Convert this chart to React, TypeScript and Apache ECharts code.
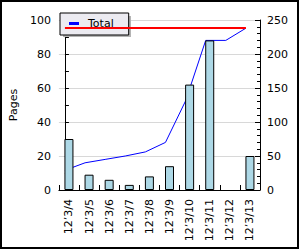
import React, { useEffect, useRef } from "react";
import * as echarts from "echarts";

const categories = ["12’3/4", "12’3/5", "12’3/6", "12’3/7", "12’3/8", "12’3/9", "12’3/10", "12’3/11", "12’3/12", "12’3/13"];
const pages = [30, 9, 6, 3, 8, 14, 62, 88, 0, 20];
const total = [29, 40, 45, 50, 56, 70, 131, 220, 220, 238];
const totalLimit = 238;
const leftAxis = { min: 0, max: 100, interval: 20 };
const rightAxis = { min: 0, max: 250, interval: 50 };

const FONT = "DejaVu Sans";

export default function App() {
  const ref = useRef<HTMLDivElement>(null);
  useEffect(() => {
    if (!ref.current) return;
    const chart = echarts.init(ref.current, null, { renderer: "svg" });
    chart.setOption({
      animation: false,
      backgroundColor: "#ffffff",
      textStyle: { fontFamily: FONT, color: "#000" },
      grid: { left: 41, right: 40, top: 20, bottom: 60 },
      legend: {
        data: ["Total"],
        left: 60,
        top: 13,
        orient: "horizontal",
        padding: [5, 15, 6, 9],
        itemWidth: 10,
        itemHeight: 3,
        icon: "rect",
        backgroundColor: "#ecebf1",
        borderColor: "#000",
        borderWidth: 1,
        borderRadius: 0,
        z: 5,
        textStyle: { fontFamily: FONT, fontSize: 11, color: "#000", padding: [0, 0, 0, 4] },
      },
      xAxis: [
        {
          type: "category",
          data: categories,
          boundaryGap: true,
          axisLine: { lineStyle: { color: "#000", width: 1 } },
          axisTick: { show: true, inside: true, length: 5, lineStyle: { color: "#000" } },
          axisLabel: { rotate: 90, fontSize: 11, fontFamily: FONT, color: "#000", margin: 9, interval: 0 },
          splitLine: { show: false },
        },
        {
          type: "value",
          show: false,
          min: -0.3,
          max: 9.7,
        },
      ],
      yAxis: [
        {
          type: "value",
          name: "Pages",
          nameLocation: "middle",
          nameRotate: 90,
          nameGap: 30,
          nameTextStyle: { fontFamily: FONT, fontSize: 11, color: "#000" },
          min: leftAxis.min,
          max: leftAxis.max,
          interval: leftAxis.interval,
          axisLine: { show: true, lineStyle: { color: "#000" } },
          axisTick: { show: true, inside: true, length: 4, lineStyle: { color: "#000" } },
          minorTick: { show: true, splitNumber: 2, length: 4, lineStyle: { color: "#000" } },
          axisLabel: { fontSize: 11, fontFamily: FONT, color: "#000", margin: 8 },
          splitLine: { show: true, lineStyle: { color: "#d8d8d8", width: 1 } },
        },
        {
          type: "value",
          position: "right",
          min: rightAxis.min,
          max: rightAxis.max,
          interval: rightAxis.interval,
          axisLine: { show: true, lineStyle: { color: "#000" } },
          axisTick: { show: true, inside: true, length: 5, lineStyle: { color: "#000" } },
          minorTick: { show: true, splitNumber: 5, length: 3, lineStyle: { color: "#000" } },
          axisLabel: { fontSize: 11, fontFamily: FONT, color: "#000", margin: 7 },
          splitLine: { show: false },
        },
      ],
      series: [
        {
          name: "Pages",
          type: "bar",
          xAxisIndex: 0,
          yAxisIndex: 0,
          data: pages.map((v) => (v === 0 ? { value: v, itemStyle: { borderWidth: 0 } } : v)),
          barWidth: 9,
          itemStyle: { color: "#add8e6", borderColor: "#000", borderWidth: 1 },
          z: 3,
        },
        {
          name: "Total",
          type: "line",
          xAxisIndex: 1,
          yAxisIndex: 1,
          data: total.map((v, i) => [i, v]),
          showSymbol: false,
          symbol: "none",
          lineStyle: { color: "#0000ff", width: 1 },
          itemStyle: { color: "#0000ff" },
          z: 2,
          markLine: {
            silent: true,
            symbol: "none",
            label: { show: false },
            lineStyle: { color: "#ff0000", width: 2, type: "solid" },
            data: [[{ coord: [0, totalLimit] }, { coord: [total.length - 1, totalLimit] }]],
          },
        },
      ],
      graphic: [
        {
          type: "rect",
          z: 4,
          shape: { x: 63, y: 16, width: 68, height: 21 },
          style: { fill: "#b4b4b4" },
          silent: true,
        },
        {
          type: "rect",
          z: 10,
          shape: { x: 1, y: 1, width: 297, height: 247 },
          style: { fill: "none", stroke: "#000", lineWidth: 2 },
          silent: true,
        },
      ],
    });
    return () => chart.dispose();
  }, []);
  return <div ref={ref} style={{ position: "absolute", left: 0, top: 0, width: 300, height: 250 }} />;
}
